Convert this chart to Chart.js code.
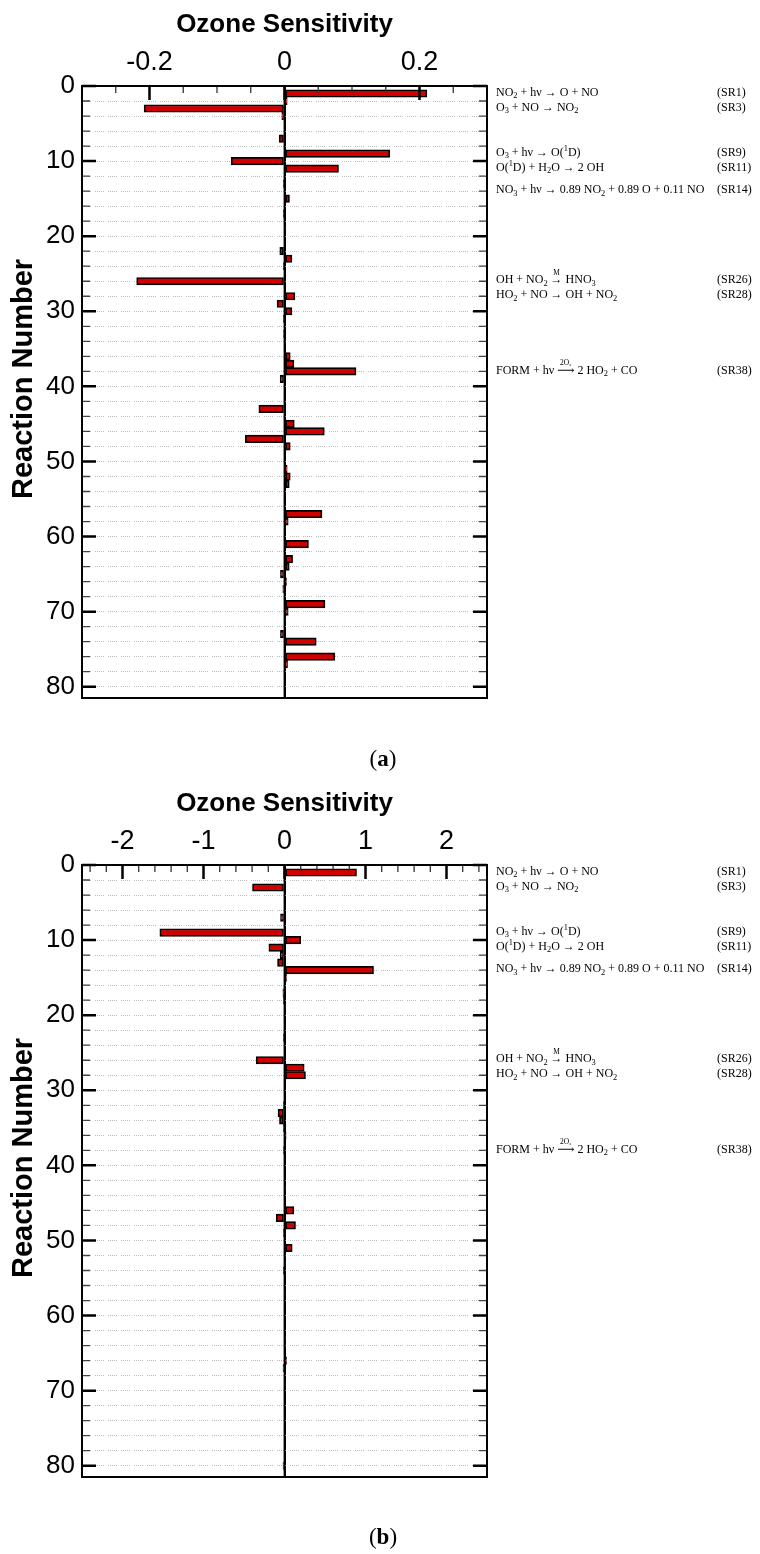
<!DOCTYPE html>
<html>
<head>
<meta charset="utf-8">
<script src="https://cdn.jsdelivr.net/npm/chart.js@4.4.1/dist/chart.umd.min.js"></script>
<style>
  html, body { margin: 0; padding: 0; background: #fff; width: 760px; height: 1554px; overflow: hidden; }
  .block { position: absolute; left: 0; width: 760px; height: 779px; }
  canvas { display: block; }
  .cap { position: absolute; left: 333px; width: 100px; text-align: center; font-family: 'Liberation Serif', 'DejaVu Serif', serif; font-size: 23px; line-height: 24px; color: #000; }
</style>
</head>
<body>
<div class="block" style="top:0px"><canvas id="chartA" width="760" height="779"></canvas></div>
<div class="cap" style="top:747px">(<b>a</b>)</div>
<div class="block" style="top:779px"><canvas id="chartB" width="760" height="779"></canvas></div>
<div class="cap" style="top:1525px">(<b>b</b>)</div>
<script>
// ---------------- data ----------------
const reactionNumbers = [1,2,3,4,5,6,7,8,9,10,11,12,13,14,15,16,17,18,19,20,21,22,23,24,25,26,27,28,29,30,31,32,33,34,35,36,37,38,39,40,41,42,43,44,45,46,47,48,49,50,51,52,53,54,55,56,57,58,59,60,61,62,63,64,65,66,67,68,69,70,71,72,73,74,75,76,77,78,79,80,81];

// (a) ozone sensitivity per reaction
const sensitivityA = [
  0.211, 0.004, -0.208, -0.004, 0, 0, -0.008, 0, 0.156, -0.079,
  0.080, 0, -0.001, 0, 0.0074, 0, -0.002, 0, 0.002, 0,
  0, -0.007, 0.011, -0.002, 0, -0.219, 0, 0.0155, -0.011, 0.011,
  -0.001, 0, -0.0015, 0.001, 0, 0.0085, 0.014, 0.106, -0.0065, 0,
  0, 0, -0.038, 0, 0.0145, 0.059, -0.058, 0.0085, 0, 0,
  0.004, 0.0085, 0.007, 0, 0, 0, 0.0555, 0.0055, 0.001, 0,
  0.0355, 0, 0.012, 0.007, -0.006, 0.003, -0.0025, 0, 0.060, 0.0055,
  0.002, 0, -0.006, 0.047, 0, 0.0745, 0.0045, 0, 0, 0,
  0
];

// (b) ozone sensitivity per reaction
const sensitivityB = [
  0.889, 0, -0.395, 0, 0, 0, -0.049, 0, -1.539, 0.200,
  -0.193, -0.053, -0.086, 1.099, 0.025, 0, -0.02, -0.015, 0.015, 0,
  0, 0, -0.01, 0, 0, -0.350, 0.243, 0.259, 0, 0,
  0, -0.01, -0.080, -0.062, -0.01, 0.02, 0, -0.012, 0, 0,
  0, 0, 0.015, 0, 0, 0.115, -0.103, 0.136, -0.014, 0,
  0.095, 0.012, 0.006, -0.006, 0, 0, 0.005, 0, 0, 0,
  0, 0, 0.010, 0.006, 0, 0.025, -0.018, 0, 0.010, 0,
  0, 0, 0, 0, 0, 0, 0, 0, 0, -0.018,
  0
];

const xLabelsA = [-0.2, 0, 0.2];
const xLabelsB = [-2, -1, 0, 1, 2];
const yLabels = [0, 10, 20, 30, 40, 50, 60, 70, 80];
const yTitle = 'Reaction Number';
const xTitle = 'Ozone Sensitivity';

const annotationRows = [1, 3, 9, 11, 14, 26, 28, 38];
const annotationIds = ['(SR1)', '(SR3)', '(SR9)', '(SR11)', '(SR14)', '(SR26)', '(SR28)', '(SR38)'];
// segments: [text] | [text,'sub'] | [text,'sup'] | [label,'over',arrow]
const annotationEqs = [
  [['NO'], ['2', 'sub'], [' + h\u03BD \u2192 O + NO']],
  [['O'], ['3', 'sub'], [' + NO \u2192 NO'], ['2', 'sub']],
  [['O'], ['3', 'sub'], [' + h\u03BD \u2192 O('], ['1', 'sup'], ['D)']],
  [['O('], ['1', 'sup'], ['D) + H'], ['2', 'sub'], ['O \u2192 2 OH']],
  [['NO'], ['3', 'sub'], [' + h\u03BD \u2192 0.89 NO'], ['2', 'sub'], [' + 0.89 O + 0.11 NO']],
  [['OH + NO'], ['2', 'sub'], [' '], ['M', 'over', '\u2192'], [' HNO'], ['3', 'sub']],
  [['HO'], ['2', 'sub'], [' + NO \u2192 OH + NO'], ['2', 'sub']],
  [['FORM + h\u03BD '], ['2O\u2082', 'over', '\u27F6'], [' 2 HO'], ['2', 'sub'], [' + CO']]
];

// ---------------- helpers ----------------
const SANS = "'Liberation Sans', Arial, Helvetica, sans-serif";
const SERIF = "'Liberation Serif', 'DejaVu Serif', serif";
Chart.defaults.font.family = SANS;
Chart.defaults.color = '#000';

function stepTicks(min, max, step) {
  const out = [];
  const k0 = Math.ceil(min / step - 1e-9), k1 = Math.floor(max / step + 1e-9);
  for (let k = k0; k <= k1; k++) out.push(Math.round(k * step * 1e6) / 1e6);
  return out;
}
function isIn(list, v) { return list.some(m => Math.abs(m - v) < 1e-9); }

function drawRich(ctx, segs, x, y, size) {
  let cx = x;
  for (const s of segs) {
    const t = s[0], kind = s[1];
    if (!kind) {
      ctx.font = size + 'px ' + SERIF;
      ctx.fillText(t, cx, y);
      cx += ctx.measureText(t).width;
    } else if (kind === 'sub') {
      ctx.font = (size * 0.7) + 'px ' + SERIF;
      ctx.fillText(t, cx, y + size * 0.3);
      cx += ctx.measureText(t).width;
    } else if (kind === 'sup') {
      ctx.font = (size * 0.7) + 'px ' + SERIF;
      ctx.fillText(t, cx, y - size * 0.35);
      cx += ctx.measureText(t).width;
    } else if (kind === 'over') {
      ctx.font = size + 'px ' + SERIF;
      const w = ctx.measureText(s[2]).width;
      ctx.fillText(s[2], cx, y);
      ctx.font = (size * 0.62) + 'px ' + SERIF;
      const lw = ctx.measureText(t).width;
      ctx.fillText(t, cx + (w - lw) / 2, y - size * 0.62);
      cx += w;
    }
  }
}

const framePlugin = {
  id: 'frame',
  afterDatasetsDraw(chart, args, opts) {
    const { ctx, chartArea: a, scales: { x, y } } = chart;
    ctx.save();
    ctx.setLineDash([]);
    // zero line
    const x0 = x.getPixelForValue(0);
    ctx.strokeStyle = '#000';
    ctx.lineWidth = 1.8;
    ctx.beginPath(); ctx.moveTo(x0, a.top); ctx.lineTo(x0, a.bottom); ctx.stroke();
    // top ticks (inside)
    for (const t of x.ticks) {
      const px = x.getPixelForValue(t.value);
      const major = isIn(opts.xMajor, t.value);
      ctx.strokeStyle = major ? '#000' : '#333';
      ctx.lineWidth = major ? 2.5 : 1.3;
      const len = major ? 14 : 7;
      ctx.beginPath(); ctx.moveTo(px, a.top); ctx.lineTo(px, a.top + len); ctx.stroke();
    }
    // left & right ticks (inside)
    for (const t of y.ticks) {
      const py = y.getPixelForValue(t.value);
      const major = isIn(yLabels, t.value);
      ctx.strokeStyle = major ? '#000' : '#444';
      ctx.lineWidth = major ? 2.5 : 1.3;
      const len = major ? 14 : 8;
      ctx.beginPath();
      ctx.moveTo(a.left, py); ctx.lineTo(a.left + len, py);
      ctx.moveTo(a.right, py); ctx.lineTo(a.right - len, py);
      ctx.stroke();
    }
    // frame
    ctx.strokeStyle = '#000';
    ctx.lineWidth = 2;
    ctx.strokeRect(a.left, a.top, a.right - a.left, a.bottom - a.top);
    // y-axis title
    ctx.save();
    ctx.fillStyle = '#000';
    ctx.font = 'bold 29px ' + SANS;
    ctx.textAlign = 'center';
    ctx.textBaseline = 'middle';
    ctx.translate(y.left + 24, (a.top + a.bottom) / 2 - 13);
    ctx.rotate(-Math.PI / 2);
    ctx.fillText(yTitle, 0, 0);
    ctx.restore();
    // reaction annotations
    ctx.fillStyle = '#000';
    ctx.textBaseline = 'middle';
    ctx.textAlign = 'left';
    annotationRows.forEach((row, i) => {
      const py = y.getPixelForValue(row) - 1;
      drawRich(ctx, annotationEqs[i], a.right + 9, py, 12);
      ctx.font = '12px ' + SERIF;
      ctx.fillText(annotationIds[i], a.right + 230, py);
    });
    ctx.restore();
  }
};

function makeChart(id, values, xMin, xMax, xStep, xMajor) {
  const xTickVals = stepTicks(xMin, xMax, xStep);
  const yTickVals = stepTicks(0, 80, 2);
  return new Chart(document.getElementById(id), {
    type: 'bar',
    data: {
      datasets: [{
        data: reactionNumbers.map((r, i) => ({ x: values[i], y: r })),
        backgroundColor: '#d00000',
        borderColor: '#000',
        borderWidth: 1.7,
        borderSkipped: false,
        barPercentage: 1,
        categoryPercentage: 1
      }]
    },
    plugins: [framePlugin],
    options: {
      indexAxis: 'y',
      responsive: false,
      animation: false,
      devicePixelRatio: 1,
      layout: { padding: { left: 0, right: 273, top: 0, bottom: 81 } },
      plugins: {
        legend: { display: false },
        tooltip: { enabled: false },
        frame: { xMajor: xMajor }
      },
      scales: {
        x: {
          type: 'linear',
          position: 'top',
          min: xMin,
          max: xMax,
          afterBuildTicks: s => { s.ticks = xTickVals.map(v => ({ value: v })); },
          afterFit: s => { s.height = 86; },
          ticks: {
            autoSkip: false,
            maxRotation: 0,
            padding: 7,
            font: { size: 27 },
            color: '#000',
            callback: v => isIn(xMajor, v) ? String(v) : ''
          },
          grid: {
            drawTicks: false,
            lineWidth: 2,
            color: c => (c.tick && Math.abs(c.tick.value) < 1e-9) ? '#000' : 'rgba(0,0,0,0)'
          },
          border: { display: false },
          title: {
            display: true,
            text: xTitle,
            color: '#000',
            font: { size: 26, weight: 'bold' },
            padding: { top: 9, bottom: 0 }
          }
        },
        y: {
          type: 'linear',
          reverse: true,
          offset: false,
          min: 0,
          max: 81.5,
          afterBuildTicks: s => { s.ticks = yTickVals.map(v => ({ value: v })); },
          afterFit: s => { s.width = 82; },
          ticks: {
            autoSkip: false,
            padding: 7,
            font: { size: 26 },
            color: '#000',
            callback: v => isIn(yLabels, v) ? String(v) : ''
          },
          grid: {
            offset: false,
            drawTicks: false,
            lineWidth: 1,
            color: '#bdbdbd'
          },
          border: { display: false, dash: [1, 1, 1, 1, 1, 1, 1, 1, 1, 4] },
          title: { display: false }
        }
      }
    }
  });
}

makeChart('chartA', sensitivityA, -0.3, 0.3, 0.05, xLabelsA);
makeChart('chartB', sensitivityB, -2.5, 2.5, 0.2, xLabelsB);
</script>
</body>
</html>
